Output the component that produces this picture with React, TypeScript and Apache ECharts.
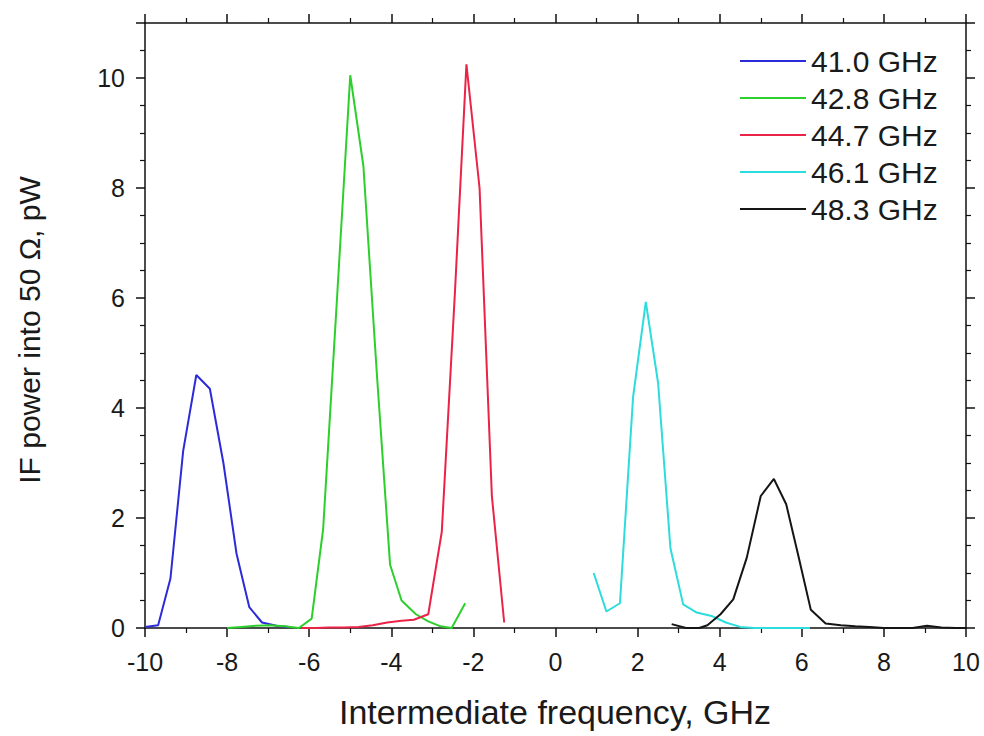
import React, { useEffect, useRef } from "react";
import * as echarts from "echarts";

const xTicks = [-10, 10];
const yRange = [0, 11];

const seriesNames = ["41.0 GHz", "42.8 GHz", "44.7 GHz", "46.1 GHz", "48.3 GHz"];
const seriesColors = ["#2b2bd9", "#2ccf2c", "#ea2347", "#2ddcdc", "#151515"];

const s41X = [-10, -9.68, -9.38, -9.07, -8.75, -8.42, -8.09, -7.77, -7.46, -7.15, -6.8, -6.5];
const s41Y = [0.02, 0.05, 0.9, 3.22, 4.6, 4.35, 3.0, 1.35, 0.38, 0.1, 0.04, 0.02];

const s42X = [-8.0, -7.65, -7.3, -6.95, -6.6, -6.25, -5.94, -5.66, -5.33, -5.0, -4.68, -4.35, -4.03, -3.75, -3.4, -3.1, -2.8, -2.53, -2.2];
const s42Y = [0.0, 0.02, 0.04, 0.05, 0.03, 0.0, 0.17, 1.8, 5.9, 10.05, 8.4, 4.6, 1.15, 0.5, 0.25, 0.12, 0.03, 0.0, 0.45];

const s44X = [-6.2, -5.85, -5.5, -5.15, -4.8, -4.45, -4.1, -3.75, -3.45, -3.1, -2.77, -2.45, -2.17, -1.85, -1.55, -1.25];
const s44Y = [0, 0, 0.01, 0.01, 0.02, 0.05, 0.1, 0.13, 0.15, 0.25, 1.75, 6.1, 10.25, 8.0, 2.4, 0.1];

const s46X = [0.93, 1.24, 1.57, 1.89, 2.2, 2.5, 2.8, 3.11, 3.44, 3.8, 4.15, 4.5, 4.85, 5.2, 5.55, 5.9, 6.2];
const s46Y = [1.0, 0.3, 0.45, 4.2, 5.93, 4.45, 1.45, 0.43, 0.28, 0.22, 0.1, 0.02, 0, 0, 0, 0, 0];

const s48X = [2.83, 3.18, 3.5, 3.7, 4.02, 4.33, 4.66, 5.0, 5.32, 5.62, 5.92, 6.22, 6.58, 6.95, 7.3, 7.65, 8.0, 8.35, 8.7, 9.05, 9.4, 9.75, 10];
const s48Y = [0.07, 0.0, 0.0, 0.05, 0.25, 0.52, 1.28, 2.4, 2.71, 2.25, 1.3, 0.33, 0.08, 0.05, 0.03, 0.02, 0.0, 0.0, 0.0, 0.04, 0.01, 0.0, 0.0];

const allX = [s41X, s42X, s44X, s46X, s48X];
const allY = [s41Y, s42Y, s44Y, s46Y, s48Y];

const xTitle = "Intermediate frequency, GHz";
const yTitle = "IF power into 50 Ω, pW";

const FONT = "'Liberation Sans', Arial, sans-serif";

export default function App() {
  const ref = useRef<HTMLDivElement>(null);
  useEffect(() => {
    if (!ref.current) return;
    const chart = echarts.init(ref.current, undefined, { renderer: "svg" });
    const axisLine = { show: true, onZero: false, lineStyle: { color: "#111", width: 1.5 } };
    const tick = { show: true, inside: false, length: 9, lineStyle: { color: "#111", width: 1.5 } };
    const xCommon = {
      type: "value" as const,
      min: xTicks[0],
      max: xTicks[1],
      interval: 2,
      axisLine,
      axisTick: tick,
      minorTick: { show: true, splitNumber: 2, length: 5, lineStyle: { color: "#111", width: 1.2 } },
      splitLine: { show: false },
      minorSplitLine: { show: false },
    };
    const yCommon = {
      type: "value" as const,
      min: yRange[0],
      max: yRange[1],
      interval: 2,
      axisLine,
      axisTick: tick,
      minorTick: { show: true, splitNumber: 4, length: 5, lineStyle: { color: "#111", width: 1.2 } },
      splitLine: { show: false },
      minorSplitLine: { show: false },
    };
    chart.setOption({
      animation: false,
      backgroundColor: "#fff",
      grid: { left: 145, right: 18, top: 23, bottom: 108, containLabel: false },
      xAxis: [
        {
          ...xCommon,
          position: "bottom",
          axisLabel: { show: true, fontSize: 25, fontFamily: FONT, color: "#1a1a1a", margin: 21 },
        },
        { ...xCommon, position: "top", axisLabel: { show: false } },
      ],
      yAxis: [
        {
          ...yCommon,
          position: "left",
          axisLabel: {
            show: true,
            fontSize: 25,
            fontFamily: FONT,
            color: "#1a1a1a",
            margin: 20,
            formatter: (v: number) => (v > 10 ? "" : String(v)),
          },
        },
        { ...yCommon, position: "right", axisLabel: { show: false } },
      ],
      legend: {
        show: true,
        orient: "vertical",
        left: 735,
        top: 41,
        itemWidth: 66,
        itemHeight: 14,
        itemGap: 7,
        textStyle: { fontSize: 30, fontFamily: FONT, color: "#1a1a1a", lineHeight: 30 },
        icon: "path://M0,0 L66,0 L66,2 L0,2 Z",
        data: seriesNames,
      },
      graphic: [
        {
          type: "text",
          x: 555,
          y: 712,
          style: {
            text: xTitle,
            font: `34px ${FONT}`,
            fill: "#1a1a1a",
            textAlign: "center",
            textVerticalAlign: "middle",
          },
        },
        {
          type: "text",
          x: 29,
          y: 330,
          rotation: Math.PI / 2,
          style: {
            text: yTitle,
            font: `30px ${FONT}`,
            fill: "#1a1a1a",
            textAlign: "center",
            textVerticalAlign: "middle",
          },
        },
      ],
      series: seriesNames.map((name, i) => ({
        name,
        type: "line",
        xAxisIndex: 0,
        yAxisIndex: 0,
        showSymbol: false,
        symbol: "none",
        color: seriesColors[i],
        lineStyle: { color: seriesColors[i], width: 2 },
        data: allX[i].map((x, j) => [x, allY[i][j]]),
        z: 3,
      })),
    });
    return () => chart.dispose();
  }, []);
  return <div ref={ref} style={{ width: 984, height: 736, position: "absolute", left: 0, top: 0 }} />;
}
